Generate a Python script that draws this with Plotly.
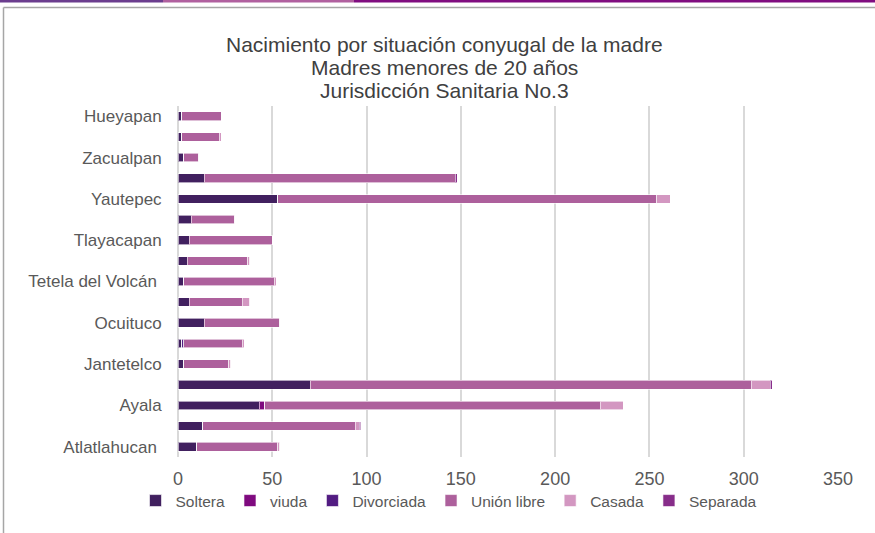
import plotly.graph_objects as go

categories = ["Atlatlahucan", "Axochiapan", "Ayala", "Cuautla", "Jantetelco", "Jonacatepec",
              "Ocuituco", "Tepalcingo", "Tetela del Volcán", "Tlalnepantla", "Tlayacapan",
              "Totolapan", "Yautepec", "Yecapixtla", "Zacualpan", "Temoac", "Hueyapan"]
shown_labels = ["Atlatlahucan\u00a0", "Ayala", "Jantetelco", "Ocuituco", "Tetela del Volcán\u00a0",
                "Tlayacapan", "Yautepec", "Zacualpan", "Hueyapan"]
shown_cats = ["Atlatlahucan", "Ayala", "Jantetelco", "Ocuituco", "Tetela del Volcán",
              "Tlayacapan", "Yautepec", "Zacualpan", "Hueyapan"]
title_lines = ["Nacimiento por situación conyugal de la madre",
               "Madres menores de 20 años",
               "Jurisdicción Sanitaria No.3"]

soltera     = [10, 13, 43, 70, 3, 2, 14, 6, 3, 5, 6, 7, 53, 14, 3, 2, 2]
viuda       = [0, 0, 3, 0, 0, 0, 0, 0, 0, 0, 0, 0, 0, 0, 0, 0, 0]
divorciada  = [0, 0, 0, 0, 0, 1, 0, 0, 0, 0, 0, 0, 0, 0, 0, 0, 0]
union_libre = [43, 81, 178, 234, 24, 31, 40, 28, 48, 32, 44, 23, 201, 133, 8, 20, 21]
casada      = [1, 2, 12, 10, 1, 1, 0, 4, 1, 1, 0, 0, 7, 0, 0, 1, 0]
separada    = [0, 1, 0, 1, 0, 0, 0, 0, 0, 0, 0, 0, 0, 1, 0, 0, 0]

series = [
    ("Soltera", soltera, "#41205f"),
    ("viuda", viuda, "#7f0a7f"),
    ("Divorciada", divorciada, "#521c82"),
    ("Unión libre", union_libre, "#ad609c"),
    ("Casada", casada, "#d397c1"),
    ("Separada", separada, "#872d8a"),
]

fig = go.Figure()
for name, vals, color in series:
    fig.add_trace(go.Bar(
        y=categories, x=vals, name=name, orientation="h",
        marker=dict(color=color, line=dict(color="rgba(255,255,255,0.6)", width=1)),
    ))

L, R, T, B = 178, 37, 106, 76
W, H = 875, 533
pw, ph = W - L - R, H - T - B

def px(x):
    return (x - L) / pw

def py(y):
    return (H - B - y) / ph

shapes = [
    dict(type="rect", xref="paper", yref="paper", x0=px(0), x1=px(163), y0=py(0), y1=py(2.5),
         fillcolor="#6b3d8e", line=dict(width=0), layer="above"),
    dict(type="rect", xref="paper", yref="paper", x0=px(163), x1=px(354), y0=py(0), y1=py(2.5),
         fillcolor="#b0609f", line=dict(width=0), layer="above"),
    dict(type="rect", xref="paper", yref="paper", x0=px(354), x1=px(876), y0=py(0), y1=py(2.5),
         fillcolor="#800d80", line=dict(width=0), layer="above"),
    dict(type="line", xref="paper", yref="paper", x0=px(3.5), x1=px(876), y0=py(7.5), y1=py(7.5),
         line=dict(color="#a6a6a6", width=1.5)),
    dict(type="line", xref="paper", yref="paper", x0=px(3.5), x1=px(3.5), y0=py(7.5), y1=py(534),
         line=dict(color="#a6a6a6", width=1.5)),
]

title_y = [44, 67.5, 91]
annotations = [
    dict(text=t, xref="paper", yref="paper", x=px(444), y=py(yy), xanchor="center", yanchor="middle",
         showarrow=False, font=dict(size=21, color="#404040", family="Liberation Sans"))
    for t, yy in zip(title_lines, title_y)
]

fig.update_layout(
    width=W, height=H,
    margin=dict(l=L, r=R, t=T, b=B, autoexpand=False),
    barmode="stack", bargap=0.58,
    paper_bgcolor="white", plot_bgcolor="white",
    font=dict(family="Liberation Sans", color="#595959"),
    xaxis=dict(
        range=[0, 350], dtick=50, showgrid=True, gridcolor="#d9d9d9", gridwidth=1.5,
        zeroline=True, zerolinecolor="#d9d9d9", zerolinewidth=1.5,
        tickfont=dict(size=18, color="#595959"), showline=False,
        ticks="outside", ticklen=5, tickcolor="rgba(0,0,0,0)",
        fixedrange=True,
    ),
    yaxis=dict(
        categoryorder="array", categoryarray=categories,
        tickvals=shown_cats, ticktext=shown_labels,
        tickfont=dict(size=17, color="#595959"), showgrid=False, showline=False,
        ticks="outside", ticklen=12, tickcolor="rgba(0,0,0,0)",
        range=[-0.5, len(categories) - 0.5], fixedrange=True,
    ),
    legend=dict(
        orientation="h", x=449 / W, xanchor="center", xref="container",
        y=1 - 484 / H, yanchor="top", yref="container",
        font=dict(size=15.5, color="#595959"), itemwidth=30, traceorder="normal",
        itemclick=False, tracegroupgap=0, bgcolor="rgba(0,0,0,0)",
    ),
    shapes=shapes,
    annotations=annotations,
)

fig.write_html("out.html", config={"displayModeBar": False},
               post_script="document.body.style.margin='0';document.body.style.padding='0';")
